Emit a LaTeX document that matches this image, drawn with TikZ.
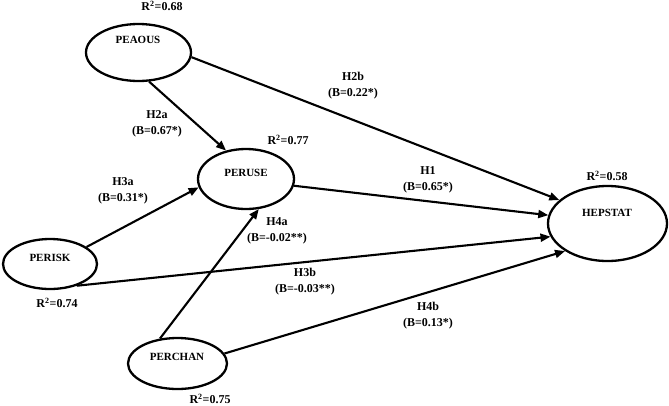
\documentclass[tikz,border=0pt]{standalone}
\usepackage{fontspec}
\setmainfont{Liberation Serif}
\usetikzlibrary{shapes.geometric,arrows.meta}
\begin{document}
\begin{tikzpicture}[x=1pt,y=-1pt,
  lv/.style={ellipse, draw, line width=2.3pt, inner sep=0pt},
  nm/.style={font=\bfseries\fontsize{11}{13}\selectfont, inner sep=0pt},
  lab/.style={font=\bfseries\fontsize{12}{16}\selectfont, align=center, inner sep=0pt},
  rsq/.style={font=\bfseries\fontsize{12}{14}\selectfont, inner sep=0pt},
  arr/.style={line width=2.1pt, -{Triangle[length=10pt,width=8pt]}}]
\useasboundingbox (0,0) rectangle (669,405);
% latent variables
\node[lv, minimum width=105pt, minimum height=57pt] (peaous) at (138.5,52.5) {};
\node[lv, minimum width=96pt, minimum height=60pt] (peruse) at (246,179) {};
\node[lv, minimum width=94pt, minimum height=50pt] (perisk) at (50,264) {};
\node[lv, minimum width=99pt, minimum height=51pt] (perchan) at (177.5,363.5) {};
\node[lv, minimum width=119pt, minimum height=75pt] (hepstat) at (607.5,223.5) {};
% names
\node[nm] (peaoust) at (138,40) {PEAOUS};
\node[nm] (peruset) at (246,173) {PERUSE};
\node[nm] (periskt) at (50,258) {PERISK};
\node[nm] (perchant) at (177,357) {PERCHAN};
\node[nm] (hepstatt) at (607,213) {HEPSTAT};
% R squared
\node[rsq] (r1) at (162,6) {R\textsuperscript{2}=0.68};
\node[rsq] (r2) at (288,140) {R\textsuperscript{2}=0.77};
\node[rsq] (r3) at (57,303) {R\textsuperscript{2}=0.74};
\node[rsq] (r4) at (210,399) {R\textsuperscript{2}=0.75};
\node[rsq] (r5) at (607,176) {R\textsuperscript{2}=0.58};
% paths
\draw[arr] (peaous.-5) -- (hepstat.154);
\draw[arr] (peaous.-70) -- (peruse.125);
\draw[arr] (peruse.-8) -- (hepstat.172.6);
\draw[arr] (perisk.25) -- (peruse.190);
\draw[arr] (perisk.-39) -- (hepstat.193);
\draw[arr] (perchan.125.5) -- (peruse.-67);
\draw[arr] (perchan.12) -- (hepstat.213);
% path labels
\node[lab] (h2a) at (157,124) {H2a\\(B=0.67*)};
\node[lab] (h2b) at (353,86) {H2b\\(B=0.22*)};
\node[lab] (h1) at (428,180) {H1\\(B=0.65*)};
\node[lab] (h3a) at (123,191) {H3a\\(B=0.31*)};
\node[lab] (h4a) at (277,231) {H4a\\(B=-0.02**)};
\node[lab] (h3b) at (305,282) {H3b\\(B=-0.03**)};
\node[lab] (h4b) at (428,316) {H4b\\(B=0.13*)};
\end{tikzpicture}
\end{document}
